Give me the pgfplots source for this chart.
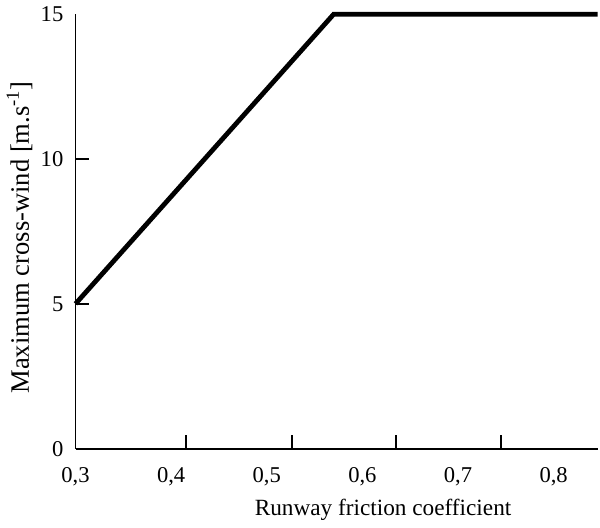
\documentclass[border=0pt]{standalone}
\usepackage{pgfplots}
\pgfplotsset{compat=1.18}
\usepackage{fontspec}
\setmainfont{Liberation Serif}

\begin{document}
\fontsize{15}{18}\selectfont
\begin{tikzpicture}
\begin{axis}[
    scale only axis,
    width=393pt, height=327pt,
    xmin=0.3, xmax=0.846,
    ymin=0, ymax=15,
    axis x line=bottom, axis y line=left,
    axis line style={-, line width=1.4pt},
    xtick={0.3,0.4,0.5,0.6,0.7,0.8},
    xticklabels={{0,3},{0,4},{0,5},{0,6},{0,7},{0,8}},
    ytick={0,5,10,15},
    yticklabels={0,5,10,15},
    major tick length=0pt,
    extra x ticks={0.4156,0.526,0.635,0.745},
    extra x tick labels={},
    extra y ticks={5,10},
    extra y tick labels={},
    extra tick style={major tick length=10pt, tick align=inside,
        tick style={line width=1.4pt, black}},
    tick label style={font=\fontsize{17}{20}\selectfont},
    xticklabel style={yshift=-9pt},
    yticklabel style={xshift=-4pt},
    xlabel={Runway friction coefficient},
    xlabel style={font=\fontsize{17.5}{20}\selectfont, xshift=35pt, yshift=0pt},
    ylabel={Maximum cross-wind [m.s\textsuperscript{-1}]},
    ylabel style={font=\fontsize{20}{22}\selectfont, at={(ticklabel cs:0.486)}, yshift=-4pt},
    clip=false,
]
\addplot[black, line width=3.6pt, line cap=butt] coordinates {(0.3,5) (0.570,15) (0.846,15)};
\end{axis}
\end{tikzpicture}
\end{document}
